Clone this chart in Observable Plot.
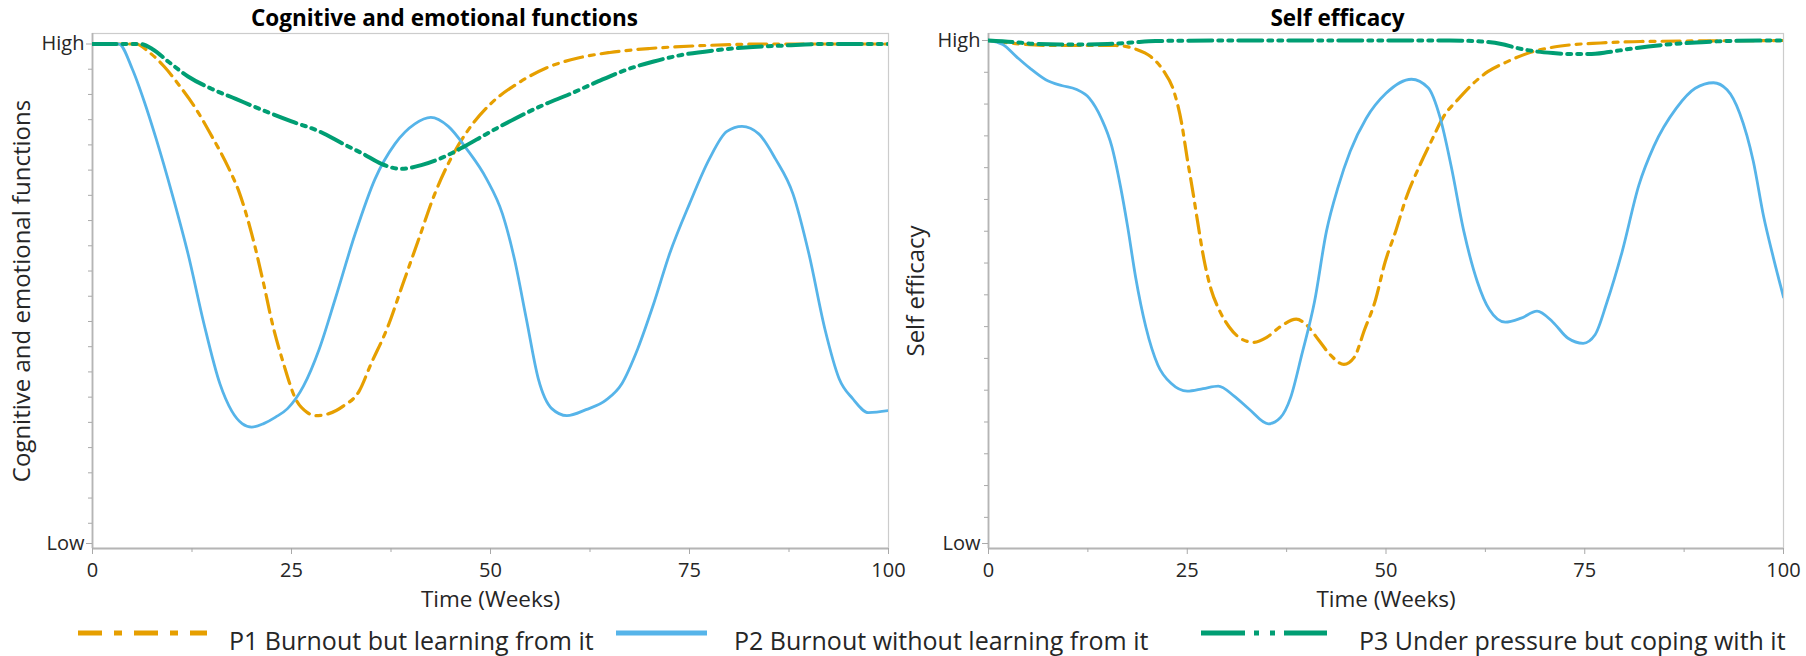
<!DOCTYPE html>
<html>
<head>
<meta charset="utf-8">
<script src="https://cdn.jsdelivr.net/npm/d3@7"></script>
<script src="https://cdn.jsdelivr.net/npm/@observablehq/plot@0.6"></script>
<style>
  html, body { margin: 0; padding: 0; background: #fff; }
  #root { position: relative; width: 1806px; height: 656px; overflow: hidden; background: #fff; }
  #root svg { position: absolute; overflow: visible; }
</style>
</head>
<body>
<div id="root"></div>
<script>
// ---------- data ----------
const weekTicks = [0, 25, 50, 75, 100];
const weekMinorTicks = [12.5, 37.5, 62.5, 87.5];
const levelValues = [0, 1];
const levelLabels = ["Low", "High"];
const xLabel = "Time (Weeks)";
const panelTitles = ["Cognitive and emotional functions", "Self efficacy"];
const panelYLabels = ["Cognitive and emotional functions", "Self efficacy"];
const seriesNames = ["P1 Burnout but learning from it", "P2 Burnout without learning from it", "P3 Under pressure but coping with it"];
const seriesColors = ["#E69F00", "#56B4E9", "#009E73"];

// Cognitive and emotional functions
const cogP1Weeks = [0, 5.5, 7, 9, 11, 13, 15, 17, 18.5, 20, 21.5, 22.6, 24, 25.5, 27, 28, 29.7, 31.5, 33.5, 35, 37, 39, 41, 43, 45, 47.3, 50, 53.5, 57, 61, 65, 70, 77, 85, 100];
const cogP1Values = [1, 1, 0.985, 0.955, 0.915, 0.87, 0.815, 0.755, 0.7, 0.62, 0.52, 0.44, 0.36, 0.29, 0.262, 0.256, 0.26, 0.275, 0.305, 0.36, 0.43, 0.52, 0.61, 0.70, 0.77, 0.83, 0.88, 0.922, 0.952, 0.972, 0.983, 0.991, 0.997, 1, 1];
const cogP2Weeks = [0, 3.3, 5, 6.5, 8, 10, 12, 14, 16, 17.5, 18.8, 20, 21.5, 23, 24.5, 26.5, 28.5, 30.5, 33, 35.5, 38, 40.5, 42.5, 44.7, 47, 49.5, 51.5, 53, 54.5, 56, 57.7, 59.6, 62, 64.5, 66.5, 68.5, 70.5, 72.5, 75, 77.5, 79.7, 81.6, 83.7, 85.8, 88, 90, 92, 93.8, 95.5, 97.5, 100];
const cogP2Values = [1, 1, 0.95, 0.885, 0.81, 0.70, 0.58, 0.44, 0.32, 0.265, 0.24, 0.233, 0.24, 0.253, 0.27, 0.315, 0.39, 0.49, 0.62, 0.73, 0.80, 0.84, 0.853, 0.835, 0.79, 0.73, 0.66, 0.57, 0.45, 0.33, 0.27, 0.256, 0.268, 0.287, 0.32, 0.39, 0.48, 0.58, 0.68, 0.77, 0.825, 0.835, 0.82, 0.77, 0.70, 0.58, 0.43, 0.33, 0.29, 0.262, 0.266];
const cogP3Weeks = [0, 6, 7.5, 9.5, 12, 15, 18, 21, 25, 28.5, 31.5, 34, 36.3, 38.7, 41.2, 44, 46.5, 49.5, 53, 56.5, 60, 63.5, 67, 70.5, 74, 78, 82, 87, 92, 100];
const cogP3Values = [1, 1, 0.99, 0.965, 0.935, 0.91, 0.89, 0.87, 0.845, 0.825, 0.80, 0.78, 0.76, 0.75, 0.757, 0.773, 0.793, 0.82, 0.85, 0.877, 0.9, 0.925, 0.948, 0.965, 0.978, 0.987, 0.993, 0.997, 1, 1];

// Self efficacy
const selfP1Weeks = [0, 4, 8, 12, 16, 18.5, 20.4, 22, 23.3, 24.3, 25, 25.7, 26.3, 27.1, 28, 29, 30.3, 31.5, 33.3, 35, 36.8, 38.7, 40.1, 41.5, 43, 44.7, 46, 47.3, 48.6, 49.9, 51.2, 52.6, 54.2, 55.7, 57.3, 59, 60.8, 62.8, 65, 68.3, 72.5, 77, 82, 100];
const selfP1Values = [1, 0.993, 0.99, 0.99, 0.99, 0.983, 0.968, 0.94, 0.9, 0.835, 0.765, 0.7, 0.64, 0.565, 0.505, 0.465, 0.43, 0.41, 0.4, 0.41, 0.432, 0.446, 0.433, 0.405, 0.375, 0.356, 0.37, 0.425, 0.48, 0.56, 0.62, 0.69, 0.75, 0.8, 0.85, 0.882, 0.912, 0.938, 0.956, 0.977, 0.99, 0.995, 0.998, 1];
const selfP2Weeks = [0, 1.8, 3.5, 5.2, 7.2, 9.3, 11, 12.7, 14.2, 15.5, 16.6, 17.5, 18.5, 19.8, 21.3, 23, 25, 27, 28.9, 30.9, 32.8, 35.2, 36.7, 38, 39.4, 41, 42.5, 44, 45.5, 47.5, 50, 53.2, 55.3, 56.8, 58.2, 59.8, 61.5, 63, 65, 67, 69, 71, 72.9, 74.8, 76.3, 77.8, 79.7, 81.8, 83.7, 86.5, 88.9, 91.2, 92.9, 94.5, 96.2, 97.5, 98.7, 100];
const selfP2Values = [1, 0.992, 0.968, 0.945, 0.922, 0.91, 0.903, 0.885, 0.845, 0.79, 0.71, 0.63, 0.53, 0.43, 0.355, 0.318, 0.303, 0.308, 0.313, 0.293, 0.267, 0.238, 0.25, 0.29, 0.375, 0.48, 0.62, 0.71, 0.78, 0.845, 0.895, 0.923, 0.906, 0.847, 0.75, 0.62, 0.52, 0.465, 0.44, 0.448, 0.462, 0.44, 0.408, 0.398, 0.415, 0.48, 0.58, 0.712, 0.79, 0.865, 0.905, 0.916, 0.902, 0.855, 0.76, 0.65, 0.57, 0.49];
const selfP3Weeks = [0, 3, 6, 9, 12, 15, 18, 21, 30, 40, 50, 58, 62, 64.5, 66.5, 68.5, 71, 73.5, 75.5, 78, 80.5, 83, 86, 89, 93, 100];
const selfP3Values = [1, 0.997, 0.993, 0.992, 0.992, 0.993, 0.996, 0.999, 1, 1, 1, 1, 0.998, 0.993, 0.985, 0.979, 0.975, 0.973, 0.973, 0.977, 0.983, 0.988, 0.993, 0.996, 0.999, 1];

// ---------- styling ----------
const FONT = '"Open Sans", "Noto Sans", sans-serif';
const TEXT = "#262626";
const AXIS = "#a9a9a9";
const lineStyles = [
  {width: 3.2, dash: "18,7,5,7"},
  {width: 2.8, dash: null},
  {width: 4, dash: "24,6,4,6,4,6"}
];

function panel(o) {
  const minorY = d3.range(1, o.minorCount + 1).map(k => 1 - k * o.minorStep);
  const lines = o.series.map((s, i) => Plot.line(s.values, {
    x: s.weeks, y: s.values,
    stroke: seriesColors[i], strokeWidth: lineStyles[i].width,
    strokeDasharray: lineStyles[i].dash, curve: "monotone-x", clip: true
  }));
  return Plot.plot({
    width: o.width, height: 620,
    marginLeft: 92, marginRight: o.marginRight, marginTop: 33, marginBottom: 72,
    x: {domain: [0, 100]},
    y: {domain: o.yDomain},
    style: {fontFamily: FONT, color: TEXT, background: "transparent"},
    marks: [
      Plot.frame({stroke: "#cccccc", strokeWidth: 1.2}),
      Plot.ruleX([0], {stroke: "#b5b5b5", strokeWidth: 1.8}),
      Plot.ruleY([o.yDomain[0]], {stroke: "#b5b5b5", strokeWidth: 1.8}),
      Plot.axisX({ticks: weekTicks, tickSize: 6, tickPadding: 8, fontSize: 20, label: null, stroke: AXIS, fill: TEXT}),
      Plot.axisX({ticks: weekMinorTicks, tickSize: 4, tickFormat: () => "", label: null, stroke: AXIS}),
      Plot.axisY({ticks: levelValues, tickSize: 6, tickPadding: 2, fontSize: 20, label: null, stroke: AXIS, fill: TEXT,
        tickFormat: d => levelLabels[levelValues.indexOf(d)]}),
      Plot.axisY({ticks: minorY, tickSize: 4, tickFormat: () => "", label: null, stroke: AXIS}),
      ...lines,
      Plot.text([o.title], {frameAnchor: "top", textAnchor: "middle", lineAnchor: "middle", dx: o.titleDx, dy: -15,
        fontSize: 22.5, fontWeight: "bold", fill: "#000"}),
      Plot.text([o.yLabel], {frameAnchor: "left", textAnchor: "middle", lineAnchor: "middle", rotate: -90, dx: o.yLabelDx,
        fontSize: 24, fill: TEXT}),
      Plot.text([xLabel], {frameAnchor: "bottom", textAnchor: "middle", lineAnchor: "middle", dy: 51,
        fontSize: 22.5, fill: TEXT})
    ]
  });
}

const root = document.getElementById("root");

const left = panel({
  width: 900, marginRight: 12,
  yDomain: [-0.01, 1.021], minorStep: 0.0505, minorCount: 19,
  title: panelTitles[0], yLabel: panelYLabels[0], titleDx: -46, yLabelDx: -70,
  series: [
    {weeks: cogP1Weeks, values: cogP1Values},
    {weeks: cogP2Weeks, values: cogP2Values},
    {weeks: cogP3Weeks, values: cogP3Values}
  ]
});
left.style.left = "0px"; left.style.top = "0px";
root.appendChild(left);

const right = panel({
  width: 910, marginRight: 23,
  yDomain: [-0.0099, 1.0139], minorStep: 0.0632, minorCount: 15,
  title: panelTitles[1], yLabel: panelYLabels[1], titleDx: -48.5, yLabelDx: -72,
  series: [
    {weeks: selfP1Weeks, values: selfP1Values},
    {weeks: selfP2Weeks, values: selfP2Values},
    {weeks: selfP3Weeks, values: selfP3Values}
  ]
});
right.style.left = "896px"; right.style.top = "0px";
root.appendChild(right);

// ---------- legend ----------
const legendLayout = [
  {x0: 78, x1: 207, tx: 229, dash: "24,12,8,12"},
  {x0: 616, x1: 707, tx: 734, dash: null},
  {x0: 1201, x1: 1327, tx: 1359, dash: "44,9,5,11,5,9"}
];
const legend = d3.create("svg")
  .attr("width", 1806).attr("height", 56)
  .style("left", "0px").style("top", "600px")
  .style("font-family", FONT);
seriesNames.forEach((name, i) => {
  const L = legendLayout[i];
  legend.append("line")
    .attr("x1", L.x0).attr("x2", L.x1).attr("y1", 33).attr("y2", 33)
    .attr("stroke", seriesColors[i]).attr("stroke-width", 5)
    .attr("stroke-dasharray", L.dash);
  legend.append("text")
    .attr("x", L.tx).attr("y", 50)
    .attr("font-size", 25).attr("fill", TEXT)
    .text(name);
});
root.appendChild(legend.node());
</script>
</body>
</html>
